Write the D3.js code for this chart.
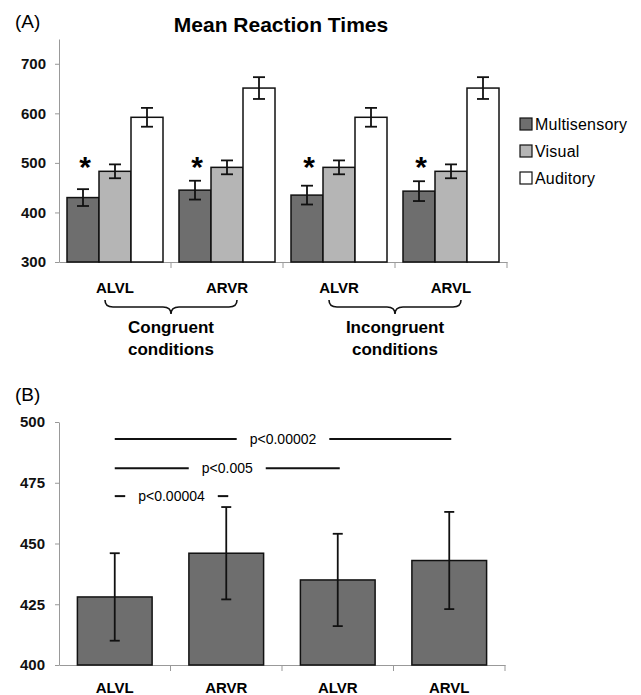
<!DOCTYPE html>
<html>
<head>
<meta charset="utf-8">
<script src="https://cdn.jsdelivr.net/npm/d3@7"></script>
<style>
  body { margin: 0; background: #fff; }
  text { font-family: Arial, "Liberation Sans", sans-serif; }
</style>
</head>
<body>
<svg id="chart"></svg>
<script>
const width = 641;
const height = 695;

// panel A data
const conditions = ["ALVL", "ARVR", "ALVR", "ARVL"];
const seriesNames = ["Multisensory", "Visual", "Auditory"];
const seriesColors = ["#6e6e6e", "#b5b5b5", "#ffffff"];
const multiMean = [430, 445, 435, 443];
const multiErr = [17, 19, 19, 20];
const visualMean = [483, 491, 491, 483];
const visualErr = [14, 14, 14, 14];
const audMean = [592, 651, 592, 651];
const audErr = [19, 22, 19, 22];
const ticksA = [300, 400, 500, 600, 700];
const groupNames = ["Congruent\nconditions", "Incongruent\nconditions"];

// panel B data
const multiMeanB = [428, 446, 435, 443];
const multiErrB = [18, 19, 19, 20];
const ticksB = [400, 425, 450, 475, 500];
const sigFrom = ["ALVL", "ALVL", "ALVL"];
const sigTo = ["ARVL", "ALVR", "ARVR"];
const sigLevel = [493, 481, 469.5];
const sigLabel = ["p<0.00002", "p<0.005", "p<0.00004"];

const svg = d3.select("#chart")
              .attr("width", width)
              .attr("height", height);

const axisColor = "#999";

// ---------- Panel A ----------
const yA = d3.scaleLinear().domain([300, 750]).range([262, 39]);
const xA = d3.scaleBand().domain(conditions).range([59, 507]);
const xInner = d3.scaleBand().domain(seriesNames).range([8, xA.bandwidth() - 8]);

svg.append("text").attr("x", 15).attr("y", 28)
   .attr("font-size", 19).text("(A)");
svg.append("text").attr("x", 281).attr("y", 32)
   .attr("text-anchor", "middle").attr("font-size", 21).attr("font-weight", "bold")
   .text("Mean Reaction Times");

const gA = svg.append("g");

const yAxisA = gA.append("g")
   .attr("transform", "translate(59,0)")
   .call(d3.axisLeft(yA).tickValues(ticksA).tickSize(4).tickSizeOuter(0));
yAxisA.select(".domain").attr("stroke", axisColor);
yAxisA.selectAll(".tick line").attr("stroke", axisColor);
yAxisA.selectAll(".tick text").attr("font-size", 15).attr("font-weight", "bold")
      .attr("fill", "#111").attr("x", -13).attr("font-family", "Arial, 'Liberation Sans', sans-serif");

const xAxisA = gA.append("g")
   .attr("transform", "translate(0,262)")
   .call(d3.axisBottom(xA).tickSize(0).tickSizeOuter(0).tickFormat(""));
xAxisA.select(".domain").attr("stroke", axisColor);
// boundary ticks
gA.selectAll(".bnd")
  .data(conditions)
  .enter().append("line")
  .attr("x1", d => xA(d) + xA.bandwidth()).attr("x2", d => xA(d) + xA.bandwidth())
  .attr("y1", 262).attr("y2", 268).attr("stroke", axisColor);

const seriesMeans = [multiMean, visualMean, audMean];
const seriesErrs = [multiErr, visualErr, audErr];
const barData = [];
conditions.forEach((c, i) => {
  seriesNames.forEach((s, j) => {
    barData.push({ cond: c, series: s, color: seriesColors[j], mean: seriesMeans[j][i], err: seriesErrs[j][i] });
  });
});

gA.selectAll(".barA")
  .data(barData)
  .enter().append("rect")
  .attr("class", "barA")
  .attr("x", d => xA(d.cond) + xInner(d.series))
  .attr("y", d => yA(d.mean))
  .attr("width", xInner.bandwidth())
  .attr("height", d => yA(300) - yA(d.mean))
  .attr("fill", d => d.color)
  .attr("stroke", "#111")
  .attr("stroke-width", 1.5);

function errorBars(g, data, xf, yf, cap) {
  const eb = g.selectAll(null).data(data).enter().append("g")
     .attr("stroke", "#111").attr("stroke-width", 1.8);
  eb.append("line").attr("x1", xf).attr("x2", xf)
    .attr("y1", d => yf(d.mean + d.err)).attr("y2", d => yf(d.mean - d.err));
  eb.append("line").attr("x1", d => xf(d) - cap / 2).attr("x2", d => xf(d) + cap / 2)
    .attr("y1", d => yf(d.mean + d.err)).attr("y2", d => yf(d.mean + d.err));
  eb.append("line").attr("x1", d => xf(d) - cap / 2).attr("x2", d => xf(d) + cap / 2)
    .attr("y1", d => yf(d.mean - d.err)).attr("y2", d => yf(d.mean - d.err));
}

errorBars(gA, barData, d => xA(d.cond) + xInner(d.series) + xInner.bandwidth() / 2, yA, 12);

// stars over multisensory bars, all on one level above the highest error bar
const starLevel = d3.max(multiMean.map((m, i) => m + multiErr[i]));
gA.selectAll(".star")
  .data(barData.filter(d => d.series === "Multisensory"))
  .enter().append("text")
  .attr("x", d => xA(d.cond) + xInner(d.series) + xInner.bandwidth() / 2 + 2)
  .attr("y", yA(starLevel) - 4)
  .attr("text-anchor", "middle").attr("font-size", 30).attr("font-weight", "bold")
  .text("*");

// category labels
gA.selectAll(".catA")
  .data(conditions)
  .enter().append("text")
  .attr("x", d => xA(d) + xA.bandwidth() / 2)
  .attr("y", 293)
  .attr("text-anchor", "middle").attr("font-size", 15).attr("font-weight", "bold")
  .text(d => d);

// braces
function bracePath(x0, x1, y0, h) {
  const xm = (x0 + x1) / 2, r = 8, yh = y0 + h / 2;
  return `M${x0},${y0} Q${x0},${yh} ${x0 + r},${yh} L${xm - r},${yh} Q${xm},${yh} ${xm},${y0 + h}` +
         ` Q${xm},${yh} ${xm + r},${yh} L${x1 - r},${yh} Q${x1},${yh} ${x1},${y0}`;
}
const groupPairs = [[conditions[0], conditions[1]], [conditions[2], conditions[3]]];
groupPairs.forEach((p, i) => {
  const x0 = xA(p[0]) + xA.bandwidth() / 2 - 10;
  const x1 = xA(p[1]) + xA.bandwidth() / 2 + 10;
  gA.append("path").attr("d", bracePath(x0, x1, 300, 14))
    .attr("fill", "none").attr("stroke", "#111").attr("stroke-width", 1.6);
  const t = gA.append("text").attr("text-anchor", "middle")
    .attr("font-size", 17).attr("font-weight", "bold");
  groupNames[i].split("\n").forEach((line, k) => {
    t.append("tspan").attr("x", (x0 + x1) / 2).attr("y", 333 + k * 22).text(line);
  });
});

// legend
const leg = gA.selectAll(".leg")
  .data(seriesNames)
  .enter().append("g")
  .attr("transform", (d, i) => `translate(520, ${118 + i * 27})`);
leg.append("rect").attr("width", 12).attr("height", 12)
   .attr("fill", (d, i) => seriesColors[i]).attr("stroke", "#111").attr("stroke-width", 1.2);
leg.append("text").attr("x", 15).attr("y", 11.5)
   .attr("font-size", 16).attr("letter-spacing", 0.2).text(d => d);

// ---------- Panel B ----------
const yB = d3.scaleLinear().domain([400, 500]).range([665, 422]);
const xB = d3.scaleBand().domain(conditions).range([59, 505]).paddingInner(0.33).paddingOuter(0.165);
const xBand = d3.scaleBand().domain(conditions).range([59, 505]);

svg.append("text").attr("x", 15).attr("y", 401)
   .attr("font-size", 19).text("(B)");

const gB = svg.append("g");
const yAxisB = gB.append("g")
   .attr("transform", "translate(59,0)")
   .call(d3.axisLeft(yB).tickValues(ticksB).tickSize(4).tickSizeOuter(0));
yAxisB.select(".domain").attr("stroke", axisColor);
yAxisB.selectAll(".tick line").attr("stroke", axisColor);
yAxisB.selectAll(".tick text").attr("font-size", 15).attr("font-weight", "bold")
      .attr("fill", "#111").attr("x", -14).attr("font-family", "Arial, 'Liberation Sans', sans-serif");

const xAxisB = gB.append("g")
   .attr("transform", "translate(0,665)")
   .call(d3.axisBottom(xBand).tickSize(0).tickSizeOuter(0).tickFormat(""));
xAxisB.select(".domain").attr("stroke", axisColor);
gB.selectAll(".bndB")
  .data(conditions)
  .enter().append("line")
  .attr("x1", d => xBand(d) + xBand.bandwidth()).attr("x2", d => xBand(d) + xBand.bandwidth())
  .attr("y1", 665).attr("y2", 671).attr("stroke", axisColor);

const barDataB = conditions.map((c, i) => ({ cond: c, mean: multiMeanB[i], err: multiErrB[i] }));

gB.selectAll(".barB")
  .data(barDataB)
  .enter().append("rect")
  .attr("x", d => xB(d.cond))
  .attr("y", d => yB(d.mean))
  .attr("width", xB.bandwidth())
  .attr("height", d => yB(400) - yB(d.mean))
  .attr("fill", "#6e6e6e")
  .attr("stroke", "#111")
  .attr("stroke-width", 1.5);

errorBars(gB, barDataB, d => xB(d.cond) + xB.bandwidth() / 2, yB, 10);

gB.selectAll(".catB")
  .data(conditions)
  .enter().append("text")
  .attr("x", d => xBand(d) + xBand.bandwidth() / 2)
  .attr("y", 693)
  .attr("text-anchor", "middle").attr("font-size", 15).attr("font-weight", "bold")
  .text(d => d);

// significance lines
sigLabel.forEach((lab, i) => {
  const x0 = xB(sigFrom[i]) + xB.bandwidth() / 2;
  const x1 = xB(sigTo[i]) + xB.bandwidth() / 2 + 2;
  const y = yB(sigLevel[i]);
  const t = gB.append("text").attr("x", (x0 + x1) / 2).attr("y", y + 5)
    .attr("text-anchor", "middle").attr("font-size", 14).text(lab);
  const w = t.node().getComputedTextLength();
  const gap = 13;
  gB.append("line").attr("x1", x0).attr("x2", (x0 + x1) / 2 - w / 2 - gap)
    .attr("y1", y).attr("y2", y).attr("stroke", "#111").attr("stroke-width", 2);
  gB.append("line").attr("x1", (x0 + x1) / 2 + w / 2 + gap).attr("x2", x1)
    .attr("y1", y).attr("y2", y).attr("stroke", "#111").attr("stroke-width", 2);
});
</script>
</body>
</html>
